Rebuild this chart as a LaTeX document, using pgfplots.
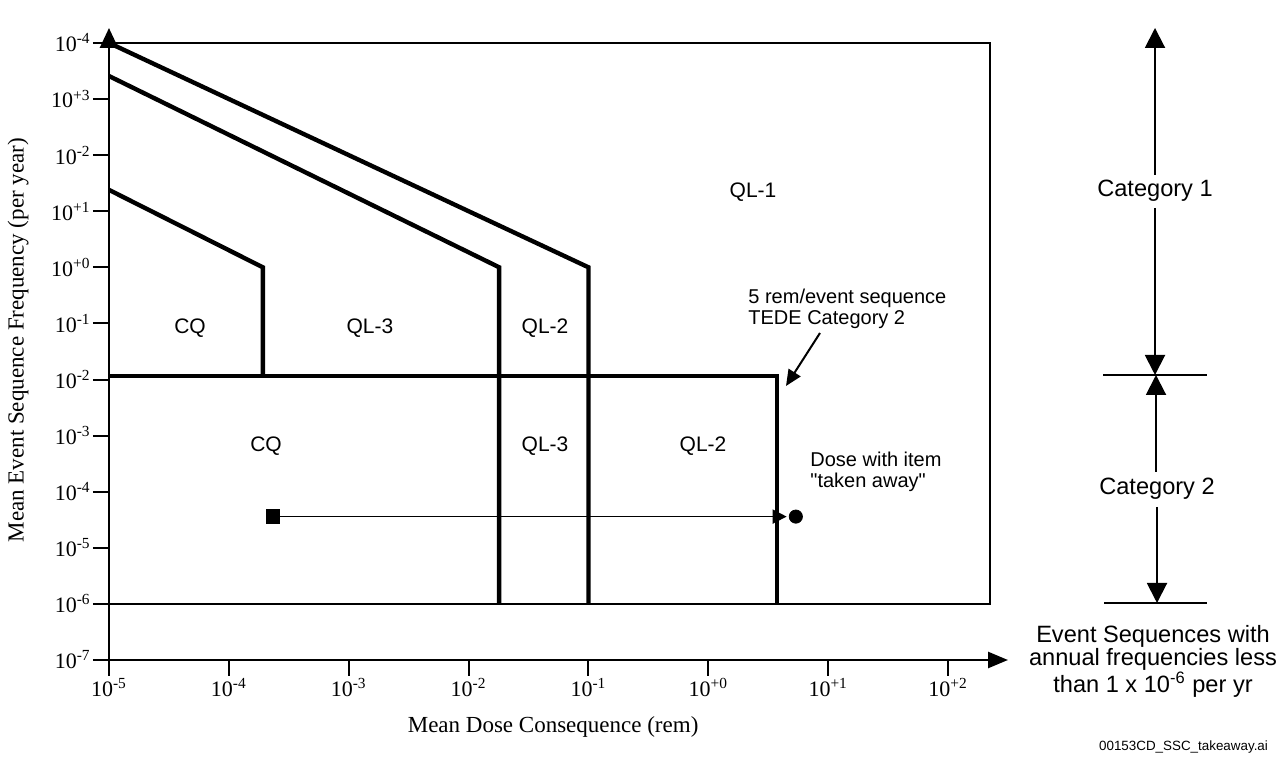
\documentclass[border=0pt]{standalone}
\usepackage{fontspec}
\setmainfont{Liberation Serif}
\setsansfont{Liberation Sans}
\newfontfamily\qfont{Liberation Sans}[Ligatures=TeXOff]
\usepackage{pgfplots}
\pgfplotsset{compat=1.18}
\usetikzlibrary{arrows.meta}
\newcommand{\sx}[1]{10\textsuperscript{#1}}
\begin{document}
\begin{tikzpicture}
\useasboundingbox (0,0) rectangle (642.5pt,382pt);
\begin{axis}[
  at={(54.5pt,52pt)}, anchor=south west,
  scale only axis, width=449.5pt, height=316pt,
  xmode=log, ymode=log,
  xmin=1e-5, xmax=316.2, ymin=1e-7, ymax=18450,
  axis lines=left,
  axis line style={line width=1.3pt},
  x axis line style={-{Triangle[length=10pt,width=8pt]}},
  y axis line style={-{Triangle[length=10pt,width=9pt]}},
  clip=false,
  xtick={1e-5,1e-4,1e-3,1e-2,1e-1,1,10,100},
  xticklabels={\sx{-5},\sx{-4},\sx{-3},\sx{-2},\sx{-1},\sx{+0},\sx{+1},\sx{+2}},
  ytick={1e-7,1e-6,1e-5,1e-4,1e-3,1e-2,1e-1,1,10,100,1000,10000},
  yticklabels={\sx{-7},\sx{-6},\sx{-5},\sx{-4},\sx{-3},\sx{-2},\sx{-1},\sx{+0},\sx{+1},\sx{-2},\sx{+3},\sx{-4}},
  xminorticks=false, yminorticks=false,
  tick align=outside, major tick length=8pt,
  tick style={line width=1pt,black},
  ticklabel style={font=\fontsize{11}{12}\selectfont, inner sep=1pt},
  xlabel={Mean Dose Consequence (rem)},
  ylabel={Mean Event Sequence Frequency (per year)},
  label style={font=\fontsize{11.5}{13}\selectfont},
  xlabel style={at={(axis description cs:0.494,-0.106)}, anchor=center},
  ylabel style={at={(axis description cs:-0.101,0.506)}, anchor=center},
]
% outer box
\addplot[line width=1.3pt, black] coordinates {(1e-5,1e4) (224,1e4) (224,1e-6) (1e-5,1e-6)};
% boundary lines
\addplot[line width=2.2pt, black, line join=miter] coordinates {(1e-5,1e4) (0.1,1) (0.1,1e-6)};
\addplot[line width=2.2pt, black, line join=miter] coordinates {(1e-5,2570) (0.018,1) (0.018,1e-6)};
\addplot[line width=2.2pt, black, line join=miter] coordinates {(1e-5,24) (1.92e-4,1) (1.92e-4,0.0115)};
\addplot[line width=2.2pt, black, line join=miter] coordinates {(1e-5,0.0115) (3.72,0.0115) (3.72,1e-6)};
% taken-away arrow
\addplot[line width=0.9pt, black, -{Triangle[length=7pt,width=7pt]}] coordinates {(2.33e-4,3.6e-5) (4.5,3.6e-5)};
\addplot[only marks, mark=square*, mark size=3.4pt, black] coordinates {(2.33e-4,3.6e-5)};
\addplot[only marks, mark=*, mark size=3.3pt, black] coordinates {(5.37,3.6e-5)};
\end{axis}
\begin{scope}[x=0.5pt,y=-0.5pt,shift={(0pt,382pt)}, font=\sffamily\fontsize{10.5}{11}\selectfont]
\node at (753,192) {QL-1};
\node at (190,328) {CQ};
\node at (370,328) {QL-3};
\node at (545,328) {QL-2};
\node at (266,446) {CQ};
\node at (545,446) {QL-3};
\node at (703,446) {QL-2};
\node[anchor=west, align=left, font=\sffamily\fontsize{10}{10.5}\selectfont, inner sep=0pt] at (748,309) {5 rem/event sequence\\TEDE Category 2};
\node[anchor=west, align=left, font=\qfont\fontsize{10}{10.5}\selectfont, inner sep=0pt] at (810,472) {Dose with item\\"taken away"};
\draw[line width=1pt, -{Triangle[length=8pt,width=7pt]}] (820,333) -- (786,386);
% right side category arrows
\begin{scope}[font=\sffamily\fontsize{11.8}{11.5}\selectfont]
\draw[line width=1pt, -{Triangle[length=10pt,width=10pt]}] (1155,175) -- (1155,28);
\node at (1155,191) {Category 1};
\draw[line width=1pt, -{Triangle[length=10pt,width=10pt]}] (1155,208) -- (1155,375);
\draw[line width=1pt] (1103,375) -- (1207,375);
\draw[line width=1pt, -{Triangle[length=10pt,width=10pt]}] (1156,472) -- (1156,375);
\node at (1157,489) {Category 2};
\draw[line width=1pt, -{Triangle[length=10pt,width=10pt]}] (1157,507) -- (1157,603);
\draw[line width=1pt] (1104,603) -- (1207,603);
\node[align=center] at (1153,661) {Event Sequences with\\annual frequencies less\\than 1 x 10\textsuperscript{-6} per yr};
\end{scope}
\node[anchor=east, font=\sffamily\fontsize{6.7}{7}\selectfont] at (1275,747) {00153CD\_SSC\_takeaway.ai};
\end{scope}
\end{tikzpicture}
\end{document}
